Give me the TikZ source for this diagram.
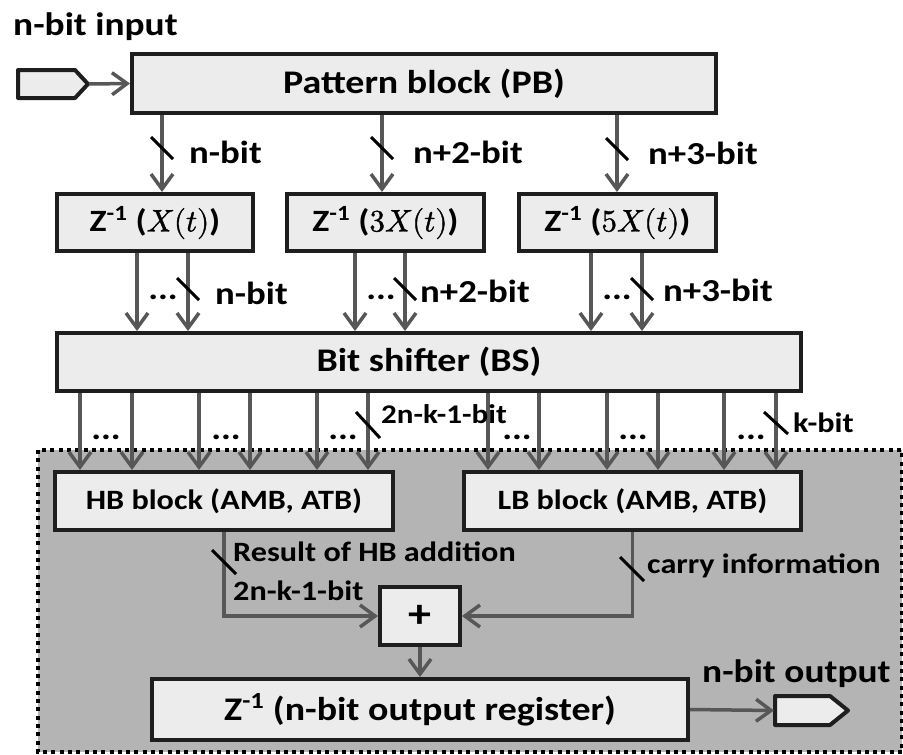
\documentclass[tikz,border=0pt]{standalone}
\usepackage{fontspec}
\usepackage{unicode-math}
\setmainfont{Carlito}[FakeStretch=1.15]
\setmathfont{Latin Modern Math}[FakeBold=1.2]
\usetikzlibrary{arrows.meta,calc}
\definecolor{boxfill}{HTML}{ECECEC}
\definecolor{edgecol}{HTML}{1E1E1E}
\definecolor{arrowgray}{HTML}{575757}
\definecolor{regiongray}{HTML}{B4B4B4}
\tikzset{
  blk/.style={draw=edgecol, fill=boxfill, line width=4pt, inner sep=0pt, align=center},
  arr/.style={draw=arrowgray, line width=3.5pt, -{Straight Barb[length=15pt,width=22pt,line width=3.5pt]}},
  slashmark/.style={draw=black, line width=3pt},
  lbl/.style={inner sep=0pt, anchor=base west},
  dots/.style={inner sep=0pt, anchor=base},
  port/.style={draw=edgecol, fill=boxfill, line width=4pt, line join=round},
  bigtxt/.style={font=\fontsize{32.5}{38}\selectfont\bfseries},
  boxtxt/.style={font=\fontsize{33}{38}\selectfont\bfseries},
  ztxt/.style={font=\fontsize{31}{36}\selectfont\bfseries},
  midtxt/.style={font=\fontsize{32}{36}\selectfont\bfseries},
  hbtxt/.style={font=\fontsize{28}{34}\selectfont\bfseries},
  smalltxt/.style={font=\fontsize{28}{32}\selectfont\bfseries}
}
\begin{document}
\begin{tikzpicture}[x=1pt,y=-1pt]
\useasboundingbox (0,0) rectangle (903,755);
\clip (0,0) rectangle (903,755);
% shaded region
\fill[regiongray] (38,450) rectangle (902,752);
\draw[line width=4pt, dash pattern=on 4pt off 4.3pt] (38,450) rectangle (902,752);

% input
\node[bigtxt, lbl] (intxt) at (13,35) {n-bit input};
\draw[port] (18,70) -- (75,70) -- (88,84) -- (75,98) -- (18,98) -- cycle;
\coordinate (inp) at (89,84);

% boxes
\node[blk, boxtxt, minimum width=584pt, minimum height=59pt] (PB) at (424,83.5) {Pattern block (PB)};
\node[blk, ztxt, minimum width=196pt, minimum height=57pt] (Z1) at (155,222.5) {Z\textsuperscript{-1} ($X(t)$)};
\node[blk, ztxt, minimum width=197pt, minimum height=57pt] (Z2) at (385.5,222.5) {Z\textsuperscript{-1} ($3X(t)$)};
\node[blk, ztxt, minimum width=197pt, minimum height=57pt] (Z3) at (617.5,222.5) {Z\textsuperscript{-1} ($5X(t)$)};
\node[blk, boxtxt, minimum width=744pt, minimum height=58pt] (BS) at (429,362) {Bit shifter (BS)};
\node[blk, hbtxt, minimum width=338pt, minimum height=58pt] (HB) at (224,501) {HB block (AMB, ATB)};
\node[blk, hbtxt, minimum width=337pt, minimum height=58pt] (LB) at (632.5,501) {LB block (AMB, ATB)};
\node[blk, font=\fontsize{40}{44}\selectfont\bfseries, minimum width=80pt, minimum height=58pt] (plus) at (420,616) {+};
\node[blk, boxtxt, minimum width=536pt, minimum height=61pt] (OUT) at (420,709.5) {Z\textsuperscript{-1} (n-bit output register)};

% output
\draw[port] (775,696) -- (830,696) -- (848,710.5) -- (830,725) -- (775,725) -- cycle;
\coordinate (outp) at (774,710.5);
\node[bigtxt, lbl] (outtxt) at (702,682) {n-bit output};

% input arrow
\draw[arr] (inp) -- (PB.west);

% PB -> Z
\coordinate (p1) at (162,0);
\coordinate (p2) at (382,0);
\coordinate (p3) at (617,0);
\draw[arr] (p1 |- PB.south) -- (p1 |- Z1.north);
\draw[arr] (p2 |- PB.south) -- (p2 |- Z2.north);
\draw[arr] (p3 |- PB.south) -- (p3 |- Z3.north);
\draw[slashmark] (162,148) +(-11,-11) -- +(11,11);
\draw[slashmark] (382,148) +(-11,-11) -- +(11,11);
\draw[slashmark] (617,149) +(-11,-11) -- +(11,11);
\node[midtxt, lbl] (l1) at (189,163) {n-bit};
\node[midtxt, lbl] (l2) at (413,163) {n+2-bit};
\node[midtxt, lbl] (l3) at (648,164) {n+3-bit};

% Z -> BS
\foreach \x/\z in {137/Z1,188/Z1,355/Z2,405/Z2,591/Z3,642/Z3}{
  \coordinate (zz) at (\x,0);
  \draw[arr] (zz |- \z.south) -- (zz |- BS.north);
}
\draw[slashmark] (188,289) +(-11,-11) -- +(11,11);
\draw[slashmark] (405,289) +(-11,-11) -- +(11,11);
\draw[slashmark] (642,289) +(-11,-11) -- +(11,11);
\node[midtxt, dots] (d1) at (163,299) {...};
\node[midtxt, dots] (d2) at (381,299) {...};
\node[midtxt, dots] (d3) at (617,299) {...};
\node[midtxt, lbl] (l4) at (215,304) {n-bit};
\node[midtxt, lbl] (l5) at (420,302) {n+2-bit};
\node[midtxt, lbl] (l6) at (663,301) {n+3-bit};

% BS -> HB/LB
\foreach \x/\b in {80/HB,132/HB,199/HB,250/HB,317/HB,368/HB,488/LB,539/LB,607/LB,658/LB,724/LB,776/LB}{
  \coordinate (bb) at (\x,0);
  \draw[arr] (bb |- BS.south) -- (bb |- \b.north);
}
\foreach \x in {106,226,343,517,633,751}{
  \node[midtxt, dots] at (\x,439) {...};
}
\draw[slashmark] (368,425) +(-12,-13) -- +(12,13);
\draw[slashmark] (776,423) +(-12,-11) -- +(12,11);
\node[smalltxt, lbl, font=\fontsize{27}{32}\selectfont\bfseries] (l7) at (381,423) {2n-k-1-bit};
\node[smalltxt, lbl] (l8) at (793,432) {k-bit};

% HB/LB -> plus
\draw[arr] (HB.south) |- (plus.west);
\draw[arr] (LB.south) |- (plus.east);
\draw[slashmark] (224,562) +(-12,-12) -- +(12,12);
\draw[slashmark] (632,569) +(-12,-12) -- +(12,12);
\node[smalltxt, lbl] (l9) at (233,561) {Result of HB addition};
\node[smalltxt, lbl] (l10) at (233,600) {2n-k-1-bit};
\node[smalltxt, lbl] (l11) at (647,573) {carry information};

% plus -> OUT -> output
\draw[arr] (plus.south) -- (OUT.north);
\draw[arr] (OUT.east) -- (outp);
\end{tikzpicture}
\end{document}
